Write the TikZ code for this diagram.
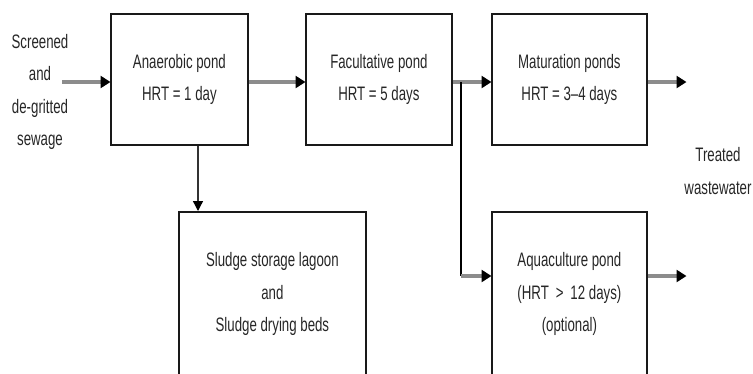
\documentclass[tikz,border=0pt]{standalone}
\usepackage{fontspec}
\setmainfont{Liberation Sans}[FakeStretch=0.68]
\usetikzlibrary{arrows.meta}
\begin{document}
\begin{tikzpicture}[x=1pt,y=-1pt,
  txt/.style={font=\fontsize{19.5}{32.5}\selectfont, text=black!85, align=center, inner sep=0pt},
  pond/.style={txt, draw=black!90, line width=1.8pt, anchor=north west},
  flow/.style={draw=black!45, line width=3.6pt, -{Triangle[length=10pt,width=12pt,color=black]}, shorten >=-0.5pt},
  drop/.style={draw=black!80, line width=1.3pt, -{Triangle[length=10pt,width=10pt,color=black]}},
  tap/.style={draw=black, line width=1.3pt}]
\useasboundingbox (0,0) rectangle (753,373);

% process units
\node[pond, minimum width=137pt, minimum height=131pt] (ana) at (110,13) {Anaerobic pond\\HRT = 1 day};
\node[pond, minimum width=146pt, minimum height=131pt] (fac) at (305,13) {Facultative pond\\HRT = 5 days};
\node[pond, minimum width=155pt, minimum height=131pt] (mat) at (491,13) {Maturation ponds\\HRT = 3--4 days};
\node[pond, minimum width=187pt, minimum height=165pt] (slu) at (178,211) {Sludge storage lagoon\\and\\Sludge drying beds};
\node[pond, minimum width=155pt, minimum height=165pt] (aqu) at (491,211) {Aquaculture pond\\(HRT \,>\, 12 days)\\(optional)};

% influent and effluent labels
\node[txt] (inf) at (40,92) {Screened\\and\\de-gritted\\sewage};
\node[txt] (eff) at (718,171) {Treated\\wastewater};

% free ends and junctions
\coordinate (inA) at (62,82);
\coordinate (outM) at (686,82);
\coordinate (outQ) at (686,276);
\coordinate (br) at (461,82);
\coordinate (brD) at (461,276);
\coordinate (sl) at (198,211);

% main flow
\draw[flow] (inA) -- (ana.west |- inA);
\draw[flow] (ana.east |- inA) -- (fac.west |- inA);
\draw[flow] (fac.east |- inA) -- (mat.west |- inA);
\draw[flow] (mat.east |- outM) -- (outM);

% branch to the aquaculture pond
\draw[tap] (br) -- (brD);
\draw[flow] (brD) -- (aqu.west |- brD);
\draw[flow] (aqu.east |- outQ) -- (outQ);

% sludge withdrawal
\draw[drop] (ana.south -| sl) -- (sl);
\end{tikzpicture}
\end{document}
